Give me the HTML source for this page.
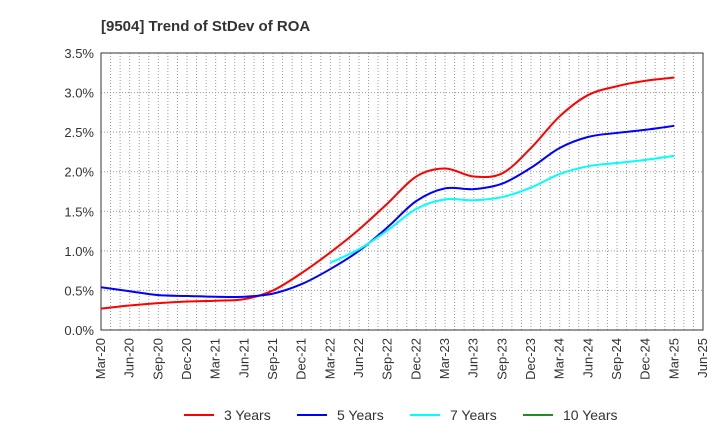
<!DOCTYPE html>
<html><head><meta charset="utf-8"><style>
body{margin:0;background:#fff;}
svg{display:block;font-family:"Liberation Sans",sans-serif;}
</style></head><body>
<svg id="c" width="720" height="440" xmlns="http://www.w3.org/2000/svg">
<text x="101" y="31" font-size="15" font-weight="bold" fill="#333">[9504]  Trend of StDev of ROA</text>
<g id="grid"></g><g id="axes"></g><g id="series"></g>
<g>
<g><line x1="184" y1="415" x2="214" y2="415" stroke="#ff0000" stroke-width="2"/><text x="224" y="420" font-size="14" fill="#333">3 Years</text></g>
<g><line x1="297" y1="415" x2="327" y2="415" stroke="#0000ff" stroke-width="2"/><text x="337" y="420" font-size="14" fill="#333">5 Years</text></g>
<g><line x1="410" y1="415" x2="440" y2="415" stroke="#00ffff" stroke-width="2"/><text x="450" y="420" font-size="14" fill="#333">7 Years</text></g>
<g><line x1="523" y1="415" x2="553" y2="415" stroke="#228b22" stroke-width="2"/><text x="563" y="420" font-size="14" fill="#333">10 Years</text></g>
</g>
</svg>
<script>
const xLabels=["Mar-20","Jun-20","Sep-20","Dec-20","Mar-21","Jun-21","Sep-21","Dec-21","Mar-22","Jun-22","Sep-22","Dec-22","Mar-23","Jun-23","Sep-23","Dec-23","Mar-24","Jun-24","Sep-24","Dec-24","Mar-25","Jun-25"];
const yTicks=[0,0.5,1.0,1.5,2.0,2.5,3.0,3.5];
const s3=[0.27,0.31,0.34,0.36,0.37,0.39,0.50,0.72,0.98,1.27,1.60,1.94,2.04,1.94,1.98,2.30,2.70,2.97,3.08,3.15,3.19];
const s5=[0.54,0.49,0.44,0.43,0.42,0.42,0.46,0.58,0.77,1.00,1.30,1.63,1.79,1.78,1.85,2.05,2.30,2.44,2.49,2.53,2.58];
const s7=[null,null,null,null,null,null,null,null,0.85,1.02,1.26,1.53,1.65,1.64,1.68,1.80,1.97,2.07,2.11,2.15,2.20];
const s10=[];
const L=101,R=703,T=53,B=330;
const xs=i=>L+(R-L)*i/(xLabels.length-1);
const ys=v=>B-(B-T)*v/3.5;
const NS="http://www.w3.org/2000/svg";
function mk(t,a,p){const e=document.createElementNS(NS,t);for(const k in a)e.setAttribute(k,a[k]);p.appendChild(e);return e;}
const grid=document.getElementById('grid'),axes=document.getElementById('axes'),ser=document.getElementById('series');
for(let m=1;m<(xLabels.length-1)*3;m++){const x=L+(R-L)*m/((xLabels.length-1)*3);
const g=mk('line',{x1:x,x2:x,y1:T,y2:B,stroke:'#999','stroke-dasharray':'1,2','stroke-width':1},grid);

}
yTicks.forEach(v=>{const y=ys(v);
if(v>0&&v<3.5){const g=mk('line',{x1:L,x2:R,y1:y,y2:y,stroke:'#999','stroke-dasharray':'1,2'},grid);

}
const t=mk('text',{x:L-7,y:y+5,'text-anchor':'end','font-size':13,fill:'#333'},axes);t.textContent=v.toFixed(1)+'%';

});
const fr=mk('rect',{x:L,y:T,width:R-L,height:B-T,fill:'none',stroke:'#333','stroke-width':1},axes);


xLabels.forEach((l,i)=>{const x=xs(i);const t=mk('text',{x:x+4,y:B+8,'text-anchor':'end','font-size':13,fill:'#333',transform:`rotate(-90 ${x+4} ${B+8})`},axes);t.textContent=l;

});
function path(arr){const p=[];arr.forEach((v,i)=>{if(v!=null)p.push([xs(i),ys(v)]);});if(p.length<2)return '';
let d=`M${p[0][0]},${p[0][1]}`;for(let i=0;i<p.length-1;i++){const p0=p[i-1]||p[i],p1=p[i],p2=p[i+1],p3=p[i+2]||p2;
d+=` C${p1[0]+(p2[0]-p0[0])/6},${p1[1]+(p2[1]-p0[1])/6} ${p2[0]-(p3[0]-p1[0])/6},${p2[1]-(p3[1]-p1[1])/6} ${p2[0]},${p2[1]}`;}return d;}
[[s3,'#ff0000','series-3-years'],[s5,'#0000ff','series-5-years'],[s7,'#00ffff','series-7-years'],[s10,'#228b22','series-10-years']].forEach(([a,c,n])=>{
const d=path(a);if(!d)return;const e=mk('path',{d:d,fill:'none',stroke:c,'stroke-width':2},ser);

});
</script>
</body></html>
